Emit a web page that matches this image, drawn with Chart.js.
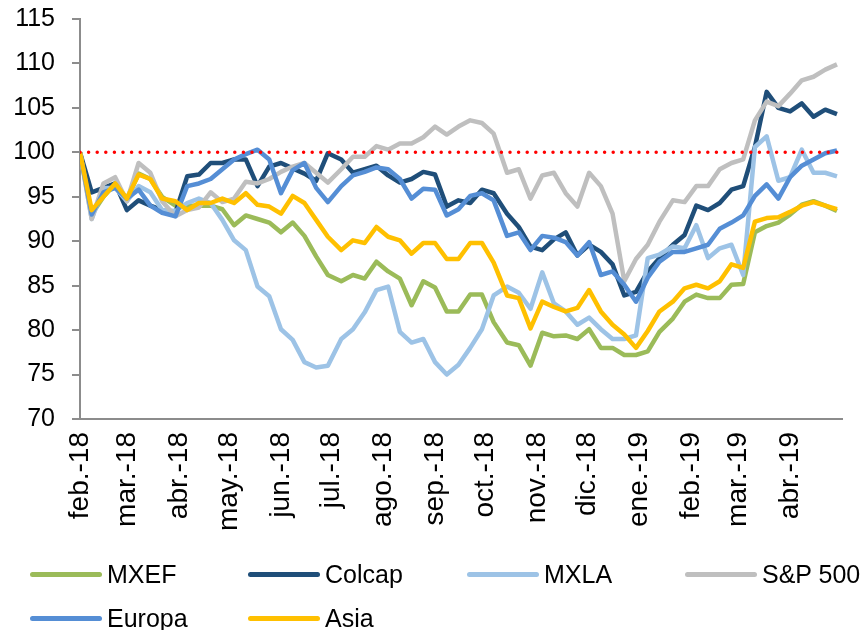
<!DOCTYPE html>
<html lang="es">
<head>
<meta charset="utf-8">
<title>Índices bursátiles</title>
<script src="https://cdn.jsdelivr.net/npm/chart.js@4.4.1/dist/chart.umd.min.js"></script>
<style>
    html, body { margin: 0; padding: 0; background: #fff; }
    #wrap { position: relative; width: 864px; height: 630px; overflow: hidden; }
    #chart { position: absolute; left: 0; top: 0; }
    .leg {
        position: absolute; display: flex; align-items: center; height: 30px;
        font: 25px 'Liberation Sans', Arial, sans-serif; color: #000; white-space: nowrap;
    }
    .leg i { display: block; width: 72px; height: 5px; border-radius: 3px; margin-right: 5px; }
</style>
</head>
<body>
<div id="wrap">
    <canvas id="chart" width="864" height="630"></canvas>
    <div id="legend"></div>
</div>
<script>
// Fechas de cada observación (semanal aprox.)
const fechas = [
    '2018-02-01','2018-02-08','2018-02-15','2018-02-22','2018-03-01','2018-03-08','2018-03-15','2018-03-22','2018-03-30','2018-04-06',
    '2018-04-13','2018-04-20','2018-04-27','2018-05-04','2018-05-11','2018-05-18','2018-05-25','2018-06-01','2018-06-08','2018-06-15',
    '2018-06-22','2018-06-29','2018-07-07','2018-07-14','2018-07-21','2018-07-28','2018-08-04','2018-08-11','2018-08-18','2018-08-25',
    '2018-09-01','2018-09-08','2018-09-15','2018-09-22','2018-09-29','2018-10-06','2018-10-14','2018-10-21','2018-10-28','2018-11-04',
    '2018-11-11','2018-11-18','2018-11-25','2018-12-02','2018-12-09','2018-12-16','2018-12-23','2018-12-30','2019-01-06','2019-01-13',
    '2019-01-21','2019-01-28','2019-02-04','2019-02-11','2019-02-18','2019-02-25','2019-03-04','2019-03-11','2019-03-18','2019-03-25',
    '2019-04-01','2019-04-08','2019-04-15','2019-04-22','2019-04-29'
];

const mxef = [100,93,95,96.5,94.8,97.6,97,95,94,94, 94,94,93.6,91.8,92.9,92.5,92.1,91,92.1,90.6,
    88.3,86.2,85.5,86.2,85.8,87.7,86.6,85.8,82.8,85.5, 84.8,82.1,82.1,84,84,80.9,78.6,78.3,76,79.7,
    79.3,79.4,79,80.1,78,78,77.2,77.2,77.6,79.8, 81.3,83.2,84,83.6,83.6,85.1,85.2,91,91.7,92.1,
    93,94.1,94.5,94,93.4];
const colcap = [100,95.5,96,96.5,93.5,94.6,94,93.5,93.2,97.3, 97.5,98.8,98.8,99.2,99.2,96.2,98.4,98.8,98.2,97.6,
    96.8,99.9,99.2,97.7,98.1,98.5,97.4,96.6,97,97.8, 97.5,93.9,94.6,94.3,95.8,95.4,93.1,91.6,89.4,89,
    90.2,91,88.4,89.6,88.8,87.4,83.9,84.3,86.6,88.1, 89.6,90.7,94,93.5,94.3,95.8,96.2,100.6,106.8,105,
    104.6,105.5,104,104.8,104.3];
const mxla = [100,92.5,96,96,94.5,96.2,95.5,93.5,93.4,94.3, 94.8,94.3,92.4,90.1,89,84.9,83.8,80.1,78.9,76.4,
    75.8,76,79,80.1,82,84.5,84.9,79.8,78.6,79, 76.4,75,76.1,78,80.1,83.9,84.9,84.2,82.4,86.5,
    83,82.1,80.6,81.4,80.1,79,79,79.4,88.1,88.5, 89.4,89.2,91.8,88.1,89.2,89.6,86.2,100.6,101.8,96.8,
    97.2,100.3,97.7,97.7,97.3];
const sp500 = [100,92.5,96.5,97.2,94.5,98.8,97.7,94.5,92.8,93.5, 93.8,95.5,94.4,94.8,96.7,96.5,97,97.8,98.4,98.8,
    97.7,96.6,98.1,99.5,99.5,100.7,100.3,101,101,101.7, 102.9,102,102.9,103.6,103.3,102.1,97.7,98.1,94.8,97.4,
    97.7,95.4,93.9,97.7,96.2,93.1,85.5,88,89.6,92.2, 94.6,94.4,96.2,96.2,98.1,98.8,99.2,103.6,105.7,105.2,
    106.6,108.1,108.5,109.3,109.9];
const europa = [100,93,95.5,96,94.8,95.8,94,93.2,92.8,96.2, 96.5,97,98.1,99.2,99.8,100.3,99.2,95.4,98,98.8,
    96,94.4,96.2,97.4,97.8,98.3,98.1,97,94.8,95.9, 95.8,92.9,93.6,95.1,95.4,94.6,90.6,91,89,90.6,
    90.4,89.9,88.4,89.9,86.2,86.6,85.1,83.2,85.9,87.7, 88.8,88.8,89.2,89.6,91.4,92.1,92.9,95.1,96.4,94.8,
    97.2,98.5,99.2,99.9,100.2];
const asia = [100,93.5,95,96.5,94.8,97.5,97,94.8,94.5,93.5, 94.3,94.3,94.8,94.3,95.4,94.1,93.9,93.1,95.1,94.3,
    92.4,90.5,89,90.1,89.8,91.6,90.5,90.1,88.6,89.8, 89.8,88,88,89.8,89.8,87.6,83.9,83.6,80.2,83.2,
    82.6,82.1,82.5,84.5,82.1,80.6,79.5,78,79.9,82.1, 83.2,84.7,85.1,84.7,85.5,87.4,87,92.2,92.6,92.7,
    93.3,94,94.4,94,93.6];

// Eje X: inicio de cada mes y su etiqueta
const fechasMes = ['2018-02-01','2018-03-01','2018-04-01','2018-05-01','2018-06-01','2018-07-01','2018-08-01','2018-09-01',
    '2018-10-01','2018-11-01','2018-12-01','2019-01-01','2019-02-01','2019-03-01','2019-04-01'];
const etiquetasMes = ['feb.-18','mar.-18','abr.-18','may.-18','jun.-18','jul.-18','ago.-18','sep.-18',
    'oct.-18','nov.-18','dic.-18','ene.-19','feb.-19','mar.-19','abr.-19'];
const fechaFinEje = '2019-05-02';

// Eje Y
const yMin = 70, yMax = 115, yPaso = 5;
const nivelBase = 100;

const FONT = "'Liberation Sans', Arial, sans-serif";
const GRIS = '#8c8c8c';
const DIA = 86400000;
const t0 = Date.parse(fechas[0]);
const dia = s => Math.round((Date.parse(s) - t0) / DIA);
const xs = fechas.map(dia);
const ticksMes = fechasMes.map(dia);
const xMax = dia(fechaFinEje);

const series = [
    { label: 'MXEF',    data: mxef,   color: '#9BBB59', order: 6 },
    { label: 'Colcap',  data: colcap, color: '#1F4E79', order: 5 },
    { label: 'MXLA',    data: mxla,   color: '#9DC3E6', order: 4 },
    { label: 'S&P 500', data: sp500,  color: '#BFBFBF', order: 3 },
    { label: 'Europa',  data: europa, color: '#558ED5', order: 2 },
    { label: 'Asia',    data: asia,   color: '#FFC000', order: 1 },
];

const datasets = series.map(s => ({
    label: s.label,
    data: s.data.map((v, i) => ({ x: xs[i], y: v })),
    borderColor: s.color,
    backgroundColor: s.color,
    borderWidth: 4.5,
    pointRadius: 0,
    tension: 0,
    borderJoinStyle: 'round',
    order: s.order,
}));

// Línea de referencia en 100
datasets.push({
    label: 'base',
    data: [{ x: 0, y: nivelBase }, { x: xMax, y: nivelBase }],
    borderColor: '#FF0000',
    borderWidth: 3.5,
    borderDash: [0, 8.6],
    borderCapStyle: 'round',
    pointRadius: 0,
    order: 0,
});

new Chart(document.getElementById('chart'), {
    type: 'line',
    data: { datasets },
    options: {
        responsive: false,
        animation: false,
        devicePixelRatio: 1,
        layout: { padding: { top: 19, right: 22, left: 0, bottom: 0 } },
        plugins: { legend: { display: false }, tooltip: { enabled: false } },
        scales: {
            x: {
                type: 'linear',
                min: 0,
                max: xMax,
                afterBuildTicks: sc => { sc.ticks = ticksMes.map(v => ({ value: v })); },
                afterFit: sc => { sc.height = 211; sc.paddingLeft = 0; sc.paddingRight = 0; sc.paddingTop = 0; sc.paddingBottom = 0; },
                grid: { display: false, drawTicks: false },
                border: { display: true, color: GRIS, width: 2 },
                ticks: {
                    autoSkip: false,
                    minRotation: 90,
                    maxRotation: 90,
                    padding: 13,
                    color: '#000',
                    font: { family: FONT, size: 28 },
                    callback: v => etiquetasMes[ticksMes.indexOf(v)] ?? '',
                },
            },
            y: {
                min: yMin,
                max: yMax,
                afterFit: sc => { sc.width = 80; sc.paddingTop = 0; sc.paddingBottom = 0; sc.paddingLeft = 0; sc.paddingRight = 0; },
                grid: { drawOnChartArea: false, drawTicks: true, tickLength: 8, color: GRIS, lineWidth: 2 },
                border: { display: true, color: GRIS, width: 2 },
                ticks: {
                    stepSize: yPaso,
                    padding: 17,
                    color: '#000',
                    font: { family: FONT, size: 25 },
                },
            },
        },
    },
});

// Leyenda
const posLeyenda = [[30, 559], [248, 559], [467, 559], [685, 559], [30, 603], [248, 603]];
document.getElementById('legend').innerHTML = series.map((s, i) =>
    `<div class="leg" style="left:${posLeyenda[i][0]}px;top:${posLeyenda[i][1]}px"><i style="background:${s.color}"></i>${s.label}</div>`
).join('');
</script>
</body>
</html>
